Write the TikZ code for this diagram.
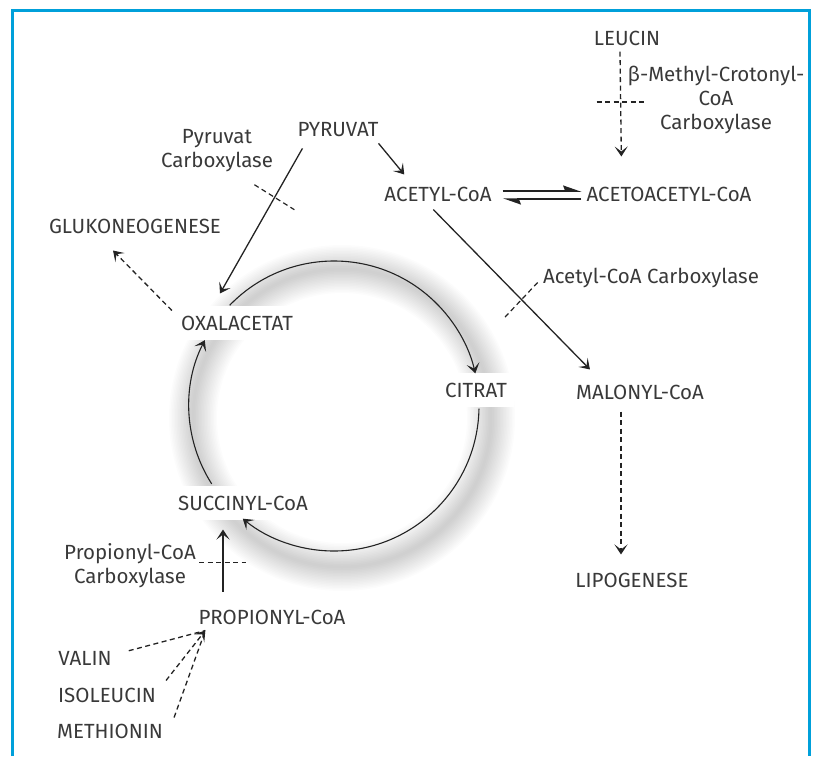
\documentclass[tikz,border=0pt]{standalone}
\usepackage{fontspec}
\setmainfont{Fira Sans}
\usetikzlibrary{%
    arrows.meta,
    positioning
}
\definecolor{framecyan}{RGB}{0,160,218}
\definecolor{inkgray}{RGB}{35,35,35}
\tikzset{headarrow/.style = {-{Stealth[length=10pt,width=13pt,inset=5pt]}, line width=1.3pt, draw=inkgray}}
\tikzset{dashhead/.style = {headarrow, dash pattern=on 5pt off 3.5pt}}
\tikzset{dashline/.style = {draw=inkgray, line width=1.3pt, dash pattern=on 5pt off 3.5pt}}
\tikzset{enzbar/.style = {draw=inkgray, line width=1.2pt, dash pattern=on 5pt off 3.5pt}}
\tikzset{harpoonarrow/.style = {-{Stealth[harpoon,length=16pt,width=11pt,inset=2pt]}, line width=1.5pt, draw=inkgray}}
\tikzset{metab/.style = {text=inkgray!90, font=\fontsize{20.5}{24}\selectfont, inner sep=2pt}}
\tikzset{cyclebox/.style = {metab, fill=white, inner xsep=7pt, inner ysep=10pt}}
\tikzset{enzyme/.style = {metab, align=center}}

\begin{document}
\begin{tikzpicture}[x=1pt,y=1pt]
    \useasboundingbox (0,0) rectangle (817,-756);
    % frame, open at the bottom
    \draw[framecyan, line width=3pt] (12,-756) -- (12,-10) -- (809,-10) -- (809,-756);

    % soft shadow of the cycle
    \coordinate (krebs) at (334,-406);
    \foreach \Width in {3,6,...,48}
        \draw[black, opacity=0.011, line width=\Width pt] ([shift={(8,-12)}]krebs) circle (149);

    % metabolites
    \node[metab] (pyr)    at (338,-130) {PYRUVAT};
    \node[metab] (acetyl) at (438,-194) {ACETYL-CoA};
    \node[metab] (aceto)  at (669,-194) {ACETOACETYL-CoA};
    \node[metab] (leucin) at (627,-38)  {LEUCIN};
    \node[metab] (gluko)  at (135,-226) {GLUKONEOGENESE};
    \node[metab] (malon)  at (640,-392) {MALONYL-CoA};
    \node[metab] (lipo)   at (632,-580) {LIPOGENESE};
    \node[metab] (prop)   at (272,-617) {PROPIONYL-CoA};
    \node[metab] (valin)  at (85,-658)  {VALIN};
    \node[metab] (iso)    at (107,-695) {ISOLEUCIN};
    \node[metab] (meth)   at (110,-731) {METHIONIN};

    % cycle members
    \node[cyclebox] (oxal)   at (237,-323) {OXALACETAT};
    \node[cyclebox] (citrat) at (476,-390) {CITRAT};
    \node[cyclebox] (succ)   at (243,-503) {SUCCINYL-CoA};

    % enzymes
    \node[enzyme] (pyrcarb)  at (217,-151) {Pyruvat\\Carboxylase};
    \node[enzyme] (acccarb)  at (651,-278) {Acetyl-CoA Carboxylase};
    \node[enzyme] (mcccarb)  at (716,-100) {β-Methyl-Crotonyl-\\CoA\\Carboxylase};
    \node[enzyme] (propcarb) at (130,-566) {Propionyl-CoA\\Carboxylase};

    % cycle
    \draw[headarrow, line width=1.1pt] ([shift={(136:145)}]krebs) arc[start angle=136, end angle=13, radius=145];
    \draw[headarrow, line width=1.1pt] ([shift={(-1:145)}]krebs) arc[start angle=-1, end angle=-129, radius=145];
    \draw[headarrow, line width=1.1pt] ([shift={(212.5:145)}]krebs) arc[start angle=212.5, end angle=153, radius=145];

    % solid reactions
    \draw[headarrow] ([shift={(-2,-4)}]pyr.south east) -- ([shift={(22,10)}]acetyl.north west);
    \draw[headarrow] ([shift={(7,-9)}]pyr.south west) -- ([shift={(-17,12)}]oxal.north)
        coordinate[pos=0.34] (pcx);
    \draw[headarrow] ([shift={(51,-6)}]acetyl.south west) -- ([shift={(16,13)}]malon.north west)
        coordinate[pos=0.56] (acx);
    \draw[headarrow, line width=2.2pt] ([shift={(-49,16)}]prop.north) -- ([shift={(-20,-9)}]succ.south)
        coordinate[pos=0.47] (ppx);

    % equilibrium
    \draw[harpoonarrow, shorten <=9pt, shorten >=3pt] ([yshift=3pt]acetyl.east) -- ([yshift=3pt]aceto.west);
    \draw[harpoonarrow, shorten <=3pt, shorten >=9pt] ([yshift=-5pt]aceto.west) -- ([yshift=-5pt]acetyl.east);

    % dashed pathways
    \draw[dashhead] ([shift={(-7,-4)}]leucin.south) -- ([shift={(37,28)}]aceto.north west)
        coordinate[pos=0.48] (mcx);
    \draw[dashhead] ([shift={(-19,-10)}]malon.south) -- ([shift={(-11,16)}]lipo.north);
    \draw[dashhead] ([shift={(-2,-5)}]oxal.north west) -- ([shift={(-22,-15)}]gluko.south);

    % amino acids into propionyl-CoA
    \coordinate (propin) at ([shift={(9,-4)}]prop.south west);
    \foreach \Amino/\Dx/\Dy in {valin/15/-2, meth/9/4}
        \draw[dashline] ([shift={(\Dx,\Dy)}]\Amino.north east) -- (propin);
    \draw[dashhead] ([shift={(8,5)}]iso.north east) -- (propin);

    % enzyme bars
    \draw[enzbar] ([shift={(-20,13)}]pcx) -- ([shift={(20,-12)}]pcx);
    \draw[enzbar] ([shift={(-16,-18)}]acx) -- ([shift={(17,17)}]acx);
    \draw[enzbar] ([xshift=-24]mcx) -- ([xshift=25]mcx);
    \draw[enzbar] ([xshift=-24]ppx) -- ([xshift=23]ppx);
\end{tikzpicture}
\end{document}
